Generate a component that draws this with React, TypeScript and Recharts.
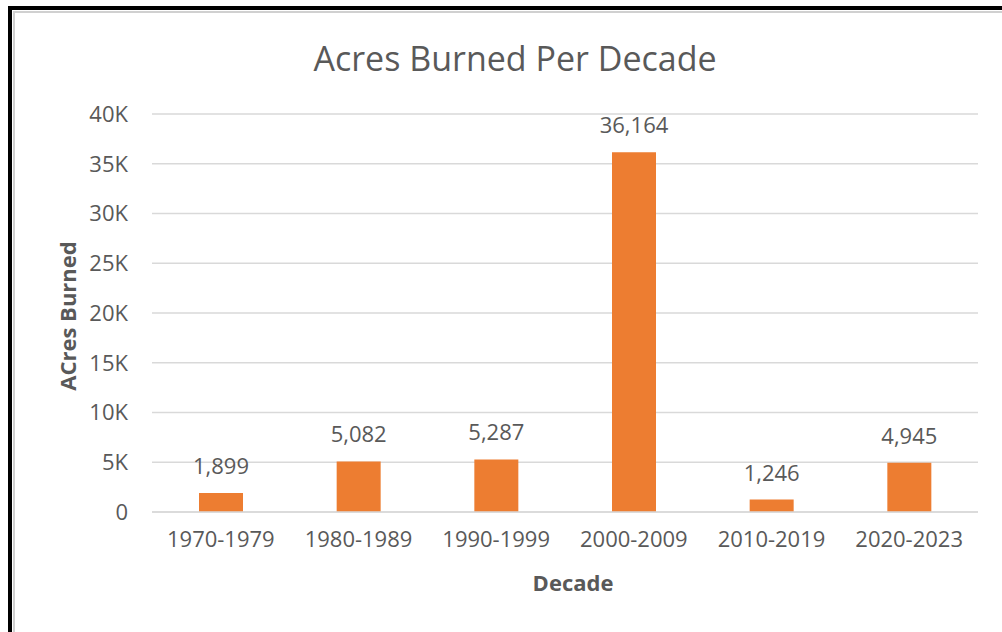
import { BarChart, Bar, XAxis, YAxis, CartesianGrid, LabelList, Label } from "recharts";

const decades = ["1970-1979", "1980-1989", "1990-1999", "2000-2009", "2010-2019", "2020-2023"];
const acresBurned = [1899, 5082, 5287, 36164, 1246, 4945];
const yTicks = [0, 5000, 10000, 15000, 20000, 25000, 30000, 35000, 40000];

const data = decades.map((decade, i) => ({ decade, acres: acresBurned[i] }));

const FONT = '"Open Sans", "Noto Sans", sans-serif';
const GRAY = "#595959";

const kFormat = (v: number) => (v === 0 ? "0" : `${v / 1000}K`);

const App = () => {
  return (
    <div style={{ position: "absolute", left: 0, top: 0, width: 1002, height: 632, background: "#fff", overflow: "hidden" }}>
      {/* frame around the chart */}
      <div
        style={{
          position: "absolute",
          left: 8,
          top: 6,
          width: 1100,
          height: 700,
          borderTop: "4px solid #000",
          borderLeft: "4px solid #000",
          boxSizing: "border-box",
        }}
      >
        <div style={{ position: "absolute", left: 1, top: 1, right: 0, bottom: 0, borderTop: "2px solid #d0d0d0", borderLeft: "2px solid #d0d0d0" }} />
      </div>
      <div style={{ position: "absolute", left: 0, top: 0 }}>
        <BarChart
          width={1002}
          height={632}
          data={data}
          margin={{ top: 114, right: 24, left: 0, bottom: 60 }}
          style={{ fontFamily: FONT }}
        >
          <text x={515} y={58} textAnchor="middle" dominantBaseline="central" fill={GRAY} fontSize={34} fontFamily={FONT}>
            Acres Burned Per Decade
          </text>
          <CartesianGrid vertical={false} stroke="#d9d9d9" strokeWidth={1.5} />
          <XAxis
            dataKey="decade"
            axisLine={{ stroke: "#d9d9d9", strokeWidth: 1.5 }}
            tickLine={false}
            tickMargin={13}
            tick={{ fill: GRAY, fontSize: 22, fontFamily: FONT }}
            height={60}
          >
            <Label
              content={({ viewBox }: any) => (
                <text x={viewBox.x + viewBox.width / 2 + 8} y={582} textAnchor="middle" dominantBaseline="central" fill={GRAY} fontSize={22} fontWeight="bold" fontFamily={FONT}>
                  Decade
                </text>
              )}
            />
          </XAxis>
          <YAxis
            width={152}
            domain={[0, 40000]}
            ticks={yTicks}
            tickFormatter={kFormat}
            axisLine={false}
            tickLine={false}
            tickMargin={18}
            tick={{ fill: GRAY, fontSize: 22, fontFamily: FONT }}
          >
            <Label
              content={({ viewBox }: any) => {
                const cx = 67;
                const cy = viewBox.y + viewBox.height / 2 + 3;
                return (
                  <text x={cx} y={cy} transform={`rotate(-90 ${cx} ${cy})`} textAnchor="middle" dominantBaseline="central" fill={GRAY} fontSize={22} fontWeight="bold" fontFamily={FONT}>
                    ACres Burned
                  </text>
                );
              }}
            />
          </YAxis>
          <Bar dataKey="acres" fill="#ed7d31" barSize={44} isAnimationActive={false}>
            <LabelList
              dataKey="acres"
              position="top"
              offset={19}
              formatter={(v: any) => Number(v).toLocaleString("en-US")}
              style={{ fill: GRAY, fontSize: 22, fontFamily: FONT }}
            />
          </Bar>
        </BarChart>
      </div>
    </div>
  );
};

export default App;
